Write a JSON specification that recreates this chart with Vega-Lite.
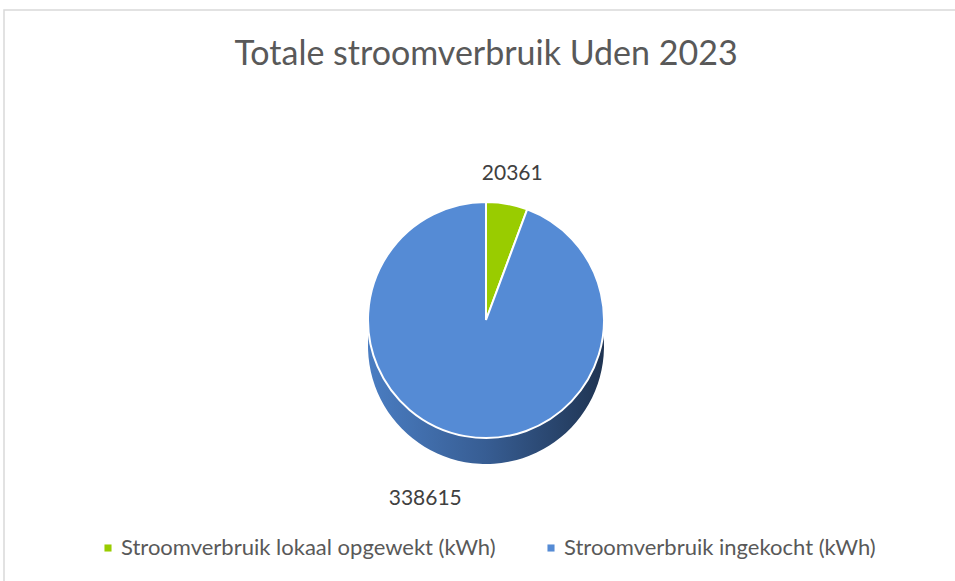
{
  "$schema": "https://vega.github.io/schema/vega-lite/v6.json",
  "autosize": "none",
  "width": 964,
  "height": 620,
  "padding": {"left": 4, "top": 10, "right": 0, "bottom": 0},
  "background": "white",
  "view": {"stroke": "#d9d9d9", "strokeWidth": 1.5},
  "config": {
    "font": "Lato"
  },
  "title": {
    "text": "Totale stroomverbruik Uden 2023",
    "font": "Lato",
    "fontSize": 34,
    "fontWeight": "normal",
    "color": "#595959",
    "anchor": "middle",
    "baseline": "alphabetic",
    "offset": -89
  },
  "data": {
    "values": [
      {"categorie": "Stroomverbruik lokaal opgewekt (kWh)", "kWh": 20361},
      {"categorie": "Stroomverbruik ingekocht (kWh)", "kWh": 338615}
    ]
  },
  "encoding": {
    "theta": {"field": "kWh", "type": "quantitative", "stack": true},
    "order": {"field": "kWh", "type": "quantitative", "sort": "ascending"}
  },
  "layer": [
    {
      "mark": {
        "type": "arc",
        "outerRadius": 118,
        "yOffset": 26,
        "color": {
          "gradient": "linear",
          "x1": 0, "x2": 1, "y1": 0, "y2": 0,
          "stops": [
            {"offset": 0, "color": "#4a7dc2"},
            {"offset": 0.5, "color": "#375d93"},
            {"offset": 1, "color": "#1f3452"}
          ]
        }
      }
    },
    {
      "mark": {"type": "arc", "outerRadius": 118, "stroke": "white", "strokeWidth": 2},
      "encoding": {
        "color": {
          "field": "categorie",
          "type": "nominal",
          "scale": {
            "domain": ["Stroomverbruik lokaal opgewekt (kWh)", "Stroomverbruik ingekocht (kWh)"],
            "range": ["#99cc00", "#558bd5"]
          },
          "legend": {
            "title": null,
            "orient": "none",
            "direction": "horizontal",
            "legendX": 93,
            "legendY": 527,
            "symbolType": "square",
            "symbolSize": 50,
            "symbolStrokeWidth": 0,
            "labelOffset": 2,
            "labelFont": "Lato",
            "labelFontSize": 22,
            "labelColor": "#595959",
            "labelLimit": 500,
            "columnPadding": 44
          }
        }
      }
    },
    {
      "transform": [{"filter": "datum.kWh < 100000"}],
      "mark": {"type": "text", "radius": 148, "font": "Lato", "fontSize": 21, "color": "#404040"},
      "encoding": {"text": {"field": "kWh", "type": "quantitative", "format": "d"}}
    },
    {
      "transform": [{"filter": "datum.kWh >= 100000"}],
      "mark": {"type": "text", "radius": 182, "dx": -93, "font": "Lato", "fontSize": 21, "color": "#404040"},
      "encoding": {"text": {"field": "kWh", "type": "quantitative", "format": "d"}}
    }
  ]
}
